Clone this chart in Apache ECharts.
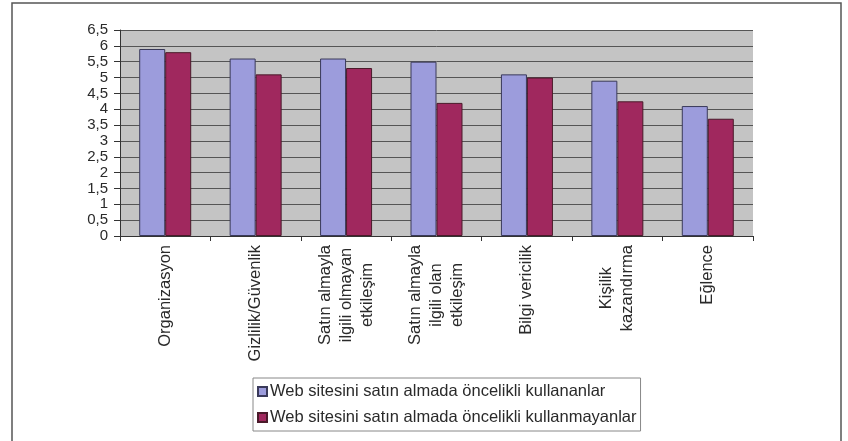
<!DOCTYPE html>
<html>
<head>
<meta charset="utf-8">
<script src="https://cdn.jsdelivr.net/npm/echarts@6/dist/echarts.min.js"></script>
<style>
  html, body { margin: 0; padding: 0; background: #fff; }
  #chart { width: 848px; height: 441px; }
</style>
</head>
<body>
<div id="chart"></div>
<script>
// kategoriler ve seriler
const categories = [
    'Organizasyon',
    'Gizlilik/Güvenlik',
    'Satın almayla\nilgili olmayan\netkileşim',
    'Satın almayla\nilgili olan\netkileşim',
    'Bilgi vericilik',
    'Kişilik\nkazandırma',
    'Eğlence'
];
const seriesNames = [
    'Web sitesini satın almada öncelikli kullananlar',
    'Web sitesini satın almada öncelikli kullanmayanlar'
];
const kullananlar = [5.9, 5.6, 5.6, 5.5, 5.1, 4.9, 4.1];
const kullanmayanlar = [5.8, 5.1, 5.3, 4.2, 5.0, 4.25, 3.7];

const font = '"Liberation Sans", Arial, sans-serif';

const chart = echarts.init(document.getElementById('chart'));

const option = {
    animation: false,
    backgroundColor: '#fff',
    textStyle: { fontFamily: font },
    graphic: [{
        type: 'rect',
        shape: { x: 12, y: 3, width: 829, height: 460 },
        style: { fill: 'none', stroke: '#555', lineWidth: 1.5 },
        silent: true
    }],
    grid: {
        left: 120, top: 30, right: 95, bottom: 205,
        show: true, backgroundColor: '#c4c4c4', borderWidth: 0
    },
    legend: {
        orient: 'vertical',
        left: 253, top: 378,
        padding: [5, 4, 5, 4],
        itemGap: 9,
        itemWidth: 9, itemHeight: 9,
        borderColor: '#888', borderWidth: 1,
        icon: 'rect',
        textStyle: { fontSize: 16.5, color: '#2a2a2a', fontFamily: font, padding: [0, 0, 0, -2] },
        data: seriesNames
    },
    xAxis: {
        type: 'category',
        data: categories,
        axisLine: { lineStyle: { color: '#333' } },
        axisTick: { show: true, length: 5, lineStyle: { color: '#333' } },
        axisLabel: {
            rotate: 90,
            margin: 9,
            interval: 0,
            fontSize: 16.5,
            lineHeight: 21,
            color: '#2a2a2a',
            formatter: v => v.split('\n').map(s => '{c|' + s + '}').join('\n'),
            rich: { c: { align: 'center', fontSize: 16.5, lineHeight: 21, color: '#2a2a2a' } }
        }
    },
    yAxis: {
        type: 'value',
        min: 0, max: 6.5, interval: 0.5,
        axisLine: { show: true, lineStyle: { color: '#333' } },
        axisTick: { show: true, length: 6, lineStyle: { color: '#333' } },
        splitLine: { lineStyle: { color: '#555', width: 1 } },
        axisLabel: {
            margin: 12,
            fontSize: 15,
            color: '#2a2a2a',
            formatter: v => String(v).replace('.', ',')
        }
    },
    series: [
        {
            name: seriesNames[0],
            type: 'bar',
            data: kullananlar,
            barWidth: 26,
            barGap: '0%',
            itemStyle: { color: '#9c9cdc', borderColor: '#3a3a5a', borderWidth: 1 }
        },
        {
            name: seriesNames[1],
            type: 'bar',
            data: kullanmayanlar,
            barWidth: 26,
            barGap: '0%',
            itemStyle: { color: '#a0285e', borderColor: '#4a1a2a', borderWidth: 1 }
        }
    ]
};

chart.setOption(option);
</script>
</body>
</html>
